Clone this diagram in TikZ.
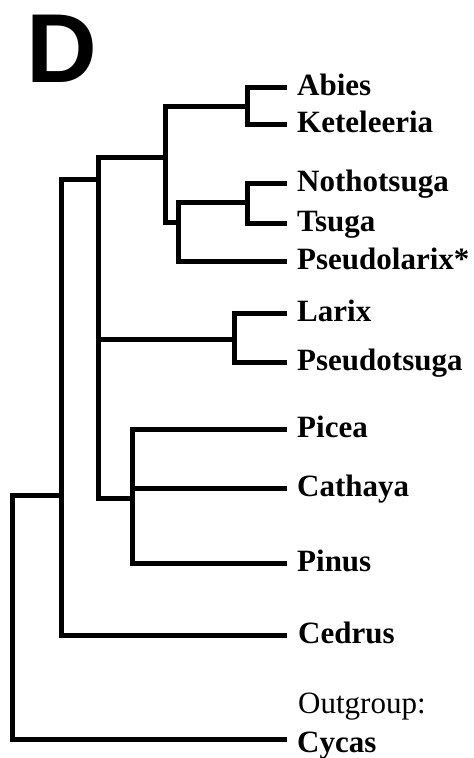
\documentclass[tikz,border=0pt]{standalone}
\usepackage{fontspec}
\setmainfont{Liberation Serif}
\newfontfamily\panelfont{Liberation Sans}
\tikzset{
  branch/.style={line width=5pt, line join=miter, line cap=butt, black},
  lab/.style={anchor=base west, inner sep=0pt, font=\bfseries\fontsize{31}{31}\selectfont},
  labreg/.style={anchor=base west, inner sep=0pt, font=\fontsize{31}{31}\selectfont},
  panel/.style={anchor=base west, inner sep=0pt, font=\panelfont\bfseries\fontsize{98}{98}\selectfont}
}
\begin{document}
\begin{tikzpicture}[x=1pt,y=-1pt]
\useasboundingbox (0,0) rectangle (474,758);
\node[panel] (D) at (26,82) {D};
% leaf ends
\coordinate (abiesE) at (287,87);
\coordinate (ketE) at (287,124);
\coordinate (nothoE) at (287,183);
\coordinate (tsugaE) at (287,223);
\coordinate (pslarE) at (287,261);
\coordinate (larixE) at (287,313);
\coordinate (pstsE) at (287,362);
\coordinate (piceaE) at (287,429);
\coordinate (cathE) at (287,488);
\coordinate (pinusE) at (287,563);
\coordinate (cedrE) at (287,635);
\coordinate (cycE) at (287,739);
% internal nodes
\coordinate (AK) at (247,106);
\coordinate (NT) at (247,202);
\coordinate (NTP) at (178,222);
\coordinate (AKNTP) at (165,157);
\coordinate (LP) at (234,339);
\coordinate (PCP) at (132,498);
\coordinate (Big) at (98,179);
\coordinate (N61) at (61,495);
\coordinate (Root) at (12,617);
% labels
\node[lab] (abies) at (297,95) {Abies};
\node[lab] (ket) at (297,132) {Keteleeria};
\node[lab] (notho) at (297,191) {Nothotsuga};
\node[lab] (tsuga) at (297,231) {Tsuga};
\node[lab] (pslar) at (297,269) {Pseudolarix*};
\node[lab] (larix) at (297,321) {Larix};
\node[lab] (psts) at (297,370) {Pseudotsuga};
\node[lab] (picea) at (297,437) {Picea};
\node[lab] (cath) at (297,496) {Cathaya};
\node[lab] (pinus) at (297,571) {Pinus};
\node[lab] (cedr) at (298,643) {Cedrus};
\node[labreg] (outg) at (298,713) {Outgroup:};
\node[lab] (cyc) at (297,752) {Cycas};
% branches
\draw[branch] (AK) |- (abiesE);
\draw[branch] (AK) |- (ketE);
\draw[branch] (NT) |- (nothoE);
\draw[branch] (NT) |- (tsugaE);
\draw[branch] (NTP) |- (NT);
\draw[branch] (NTP) |- (pslarE);
\draw[branch] (AKNTP) |- (AK);
\draw[branch] (AKNTP) |- (NTP);
\draw[branch] (LP) |- (larixE);
\draw[branch] (LP) |- (pstsE);
\draw[branch] (PCP) |- (piceaE);
\draw[branch] (PCP) |- (cathE);
\draw[branch] (PCP) |- (pinusE);
\draw[branch] (Big) |- (AKNTP);
\draw[branch] (Big) |- (LP);
\draw[branch] (Big) |- (PCP);
\draw[branch] (N61) |- (Big);
\draw[branch] (N61) |- (cedrE);
\draw[branch] (Root) |- (N61);
\draw[branch] (Root) |- (cycE);
\end{tikzpicture}
\end{document}
